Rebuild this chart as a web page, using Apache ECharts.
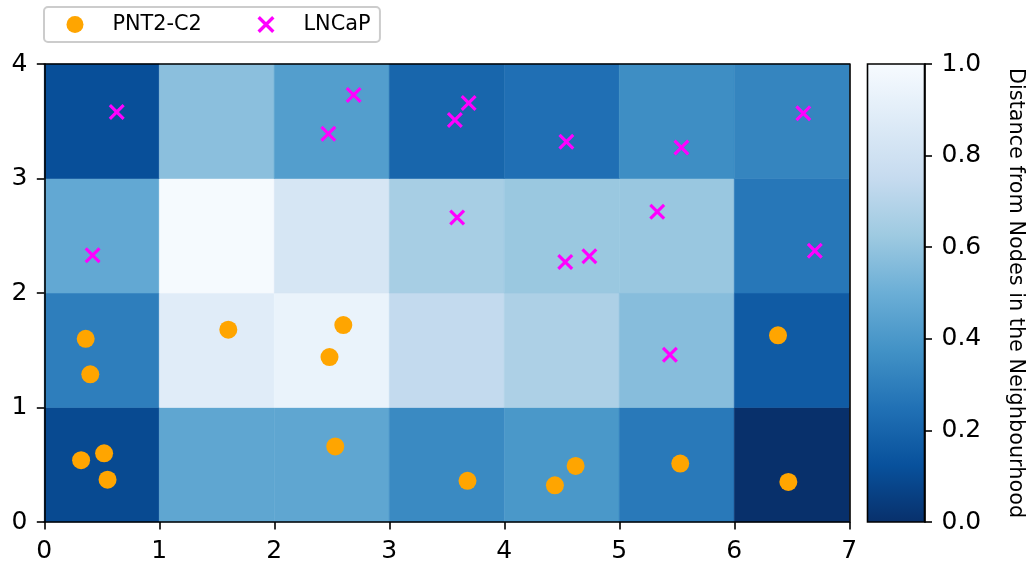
<!DOCTYPE html>
<html>
<head>
<meta charset="utf-8">
<script src="https://cdn.jsdelivr.net/npm/echarts@6/dist/echarts.min.js"></script>
<style>
  html, body { margin: 0; padding: 0; background: #ffffff; }
  #chart { width: 1032px; height: 569px; }
</style>
</head>
<body>
<div id="chart"></div>
<script>
// ---- data ----
// heat-map cell values, rows from y=0 (bottom) to y=3 (top), columns x=0..6
const cellRow0 = [0.098, 0.463, 0.463, 0.345, 0.400, 0.280, 0.000];
const cellRow1 = [0.299, 0.885, 0.935, 0.741, 0.672, 0.569, 0.164];
const cellRow2 = [0.473, 0.990, 0.833, 0.652, 0.615, 0.612, 0.273];
const cellRow3 = [0.117, 0.578, 0.427, 0.207, 0.243, 0.360, 0.326];
const cellRows = [cellRow0, cellRow1, cellRow2, cellRow3];

const pnt2X = [0.36, 0.40, 1.60, 2.60, 2.48, 0.32, 0.52, 0.55, 2.53, 3.68, 4.44, 4.62, 5.53, 6.47, 6.38];
const pnt2Y = [1.60, 1.29, 1.68, 1.72, 1.44, 0.54, 0.60, 0.37, 0.66, 0.36, 0.32, 0.49, 0.51, 0.35, 1.63];
const lncapX = [0.63, 2.69, 2.47, 0.42, 3.69, 3.57, 4.54, 5.54, 6.60, 3.59, 4.53, 4.74, 5.33, 6.70, 5.44];
const lncapY = [3.58, 3.73, 3.39, 2.33, 3.66, 3.51, 3.32, 3.27, 3.57, 2.66, 2.27, 2.32, 2.71, 2.37, 1.46];

const seriesNames = ['PNT2-C2', 'LNCaP'];
const colorbarTitle = 'Distance from Nodes in the Neighbourhood';

// matplotlib "Blues" colormap stops (low -> high of Blues); chart uses reversed
const bluesStops = ['#f7fbff', '#deebf7', '#c6dbef', '#9ecae1', '#6baed6', '#4292c6', '#2171b5', '#08519c', '#08306b'];

// ---- build ----
const heatData = [];
cellRows.forEach((row, yi) => row.forEach((v, xi) => heatData.push([xi, yi, v])));
const pnt2Data = pnt2X.map((x, i) => [x, pnt2Y[i]]);
const lncapData = lncapX.map((x, i) => [x, lncapY[i]]);

const FONT = 'DejaVu Sans';
const FS = 20.8;     // legend / colorbar title
const TFS = 25;      // tick labels
const xPath = 'path://M0,1.4L1.4,0L10,8.6L8.6,10Z M8.6,0L10,1.4L1.4,10L0,8.6Z';

const axisLineStyle = { onZero: false, lineStyle: { color: '#000', width: 1.6 } };
const tickStyle = { show: true, inside: false, length: 7.5, lineStyle: { color: '#000', width: 1.6 } };
const labelStyle = { color: '#000', fontSize: TFS, fontFamily: FONT, margin: 17 };

const chart = echarts.init(document.getElementById('chart'), null, { renderer: 'canvas' });

const option = {
  animation: false,
  backgroundColor: '#ffffff',
  textStyle: { fontFamily: FONT },
  grid: [
    { left: 44.3, top: 64, width: 805, height: 458 },
    { left: 867.5, top: 64, width: 57, height: 458 }
  ],
  legend: {
    left: 44, top: 7,
    orient: 'horizontal',
    padding: [7, 9.5, 7, 22.5],
    itemWidth: 17, itemHeight: 17,
    itemGap: 55.7,
    borderColor: '#cccccc', borderWidth: 2, borderRadius: 4,
    backgroundColor: 'rgba(255,255,255,0.8)',
    textStyle: { color: '#000', fontSize: FS, fontFamily: FONT, padding: [0, 0, 0, 24] },
    selectedMode: false,
    data: [
      { name: seriesNames[0], icon: 'circle', itemStyle: { color: '#ffa500' } },
      { name: seriesNames[1], icon: xPath, itemStyle: { color: '#ff00ff' } }
    ]
  },
  visualMap: {
    type: 'continuous', show: false, min: 0, max: 1, dimension: 2, seriesIndex: 0,
    inRange: { color: bluesStops.slice().reverse() }
  },
  xAxis: [
    { type: 'value', gridIndex: 0, min: 0, max: 7, interval: 1, position: 'bottom', z: 5,
      axisLine: axisLineStyle, axisTick: tickStyle, axisLabel: labelStyle, splitLine: { show: false } },
    { type: 'value', gridIndex: 0, min: 0, max: 7, interval: 1, position: 'top', z: 5,
      axisLine: axisLineStyle, axisTick: { show: false }, axisLabel: { show: false }, splitLine: { show: false } },
    { type: 'value', gridIndex: 1, min: 0, max: 1, show: false }
  ],
  yAxis: [
    { type: 'value', gridIndex: 0, min: 0, max: 4, interval: 1, position: 'left', z: 5,
      axisLine: axisLineStyle, axisTick: tickStyle, axisLabel: labelStyle, splitLine: { show: false } },
    { type: 'value', gridIndex: 0, min: 0, max: 4, interval: 1, position: 'right', z: 5,
      axisLine: axisLineStyle, axisTick: { show: false }, axisLabel: { show: false }, splitLine: { show: false } },
    { type: 'value', gridIndex: 1, min: 0, max: 1, interval: 0.2, position: 'right', z: 5,
      axisLine: axisLineStyle, axisTick: tickStyle,
      axisLabel: Object.assign({}, labelStyle, { formatter: v => v.toFixed(1) }),
      splitLine: { show: false },
      name: colorbarTitle, nameLocation: 'middle', nameRotate: -90, nameGap: 80,
      nameTextStyle: { color: '#000', fontSize: FS, fontFamily: FONT } }
  ],
  series: [
    {
      type: 'custom', name: 'cells', xAxisIndex: 0, yAxisIndex: 0, silent: true, z: 1,
      data: heatData,
      renderItem: function (params, api) {
        const x = api.value(0), y = api.value(1);
        const p0 = api.coord([x, y + 1]);
        const p1 = api.coord([x + 1, y]);
        const c = api.visual('color');
        return { type: 'rect',
          shape: { x: p0[0], y: p0[1], width: p1[0] - p0[0], height: p1[1] - p0[1] },
          style: { fill: c, stroke: c, lineWidth: 0.6 } };
      }
    },
    {
      type: 'scatter', name: seriesNames[0], xAxisIndex: 0, yAxisIndex: 0, z: 3,
      symbol: 'circle', symbolSize: 18, silent: true,
      itemStyle: { color: '#ffa500', opacity: 1 },
      data: pnt2Data
    },
    {
      type: 'scatter', name: seriesNames[1], xAxisIndex: 0, yAxisIndex: 0, z: 3,
      symbol: xPath, symbolSize: 16, silent: true,
      itemStyle: { color: '#ff00ff', opacity: 1 },
      data: lncapData
    },
    {
      type: 'custom', name: 'colorbar', xAxisIndex: 2, yAxisIndex: 2, silent: true, z: 1,
      data: [[0]],
      renderItem: function (params, api) {
        const p0 = api.coord([0, 1]);
        const p1 = api.coord([1, 0]);
        return { type: 'rect',
          shape: { x: p0[0], y: p0[1], width: p1[0] - p0[0], height: p1[1] - p0[1] },
          style: {
            fill: { type: 'linear', x: 0, y: 0, x2: 0, y2: 1, global: false,
              colorStops: bluesStops.map((c, i) => ({ offset: i / (bluesStops.length - 1), color: c })) },
            stroke: '#000', lineWidth: 1.6
          } };
      }
    }
  ]
};
chart.setOption(option);
</script>
</body>
</html>
